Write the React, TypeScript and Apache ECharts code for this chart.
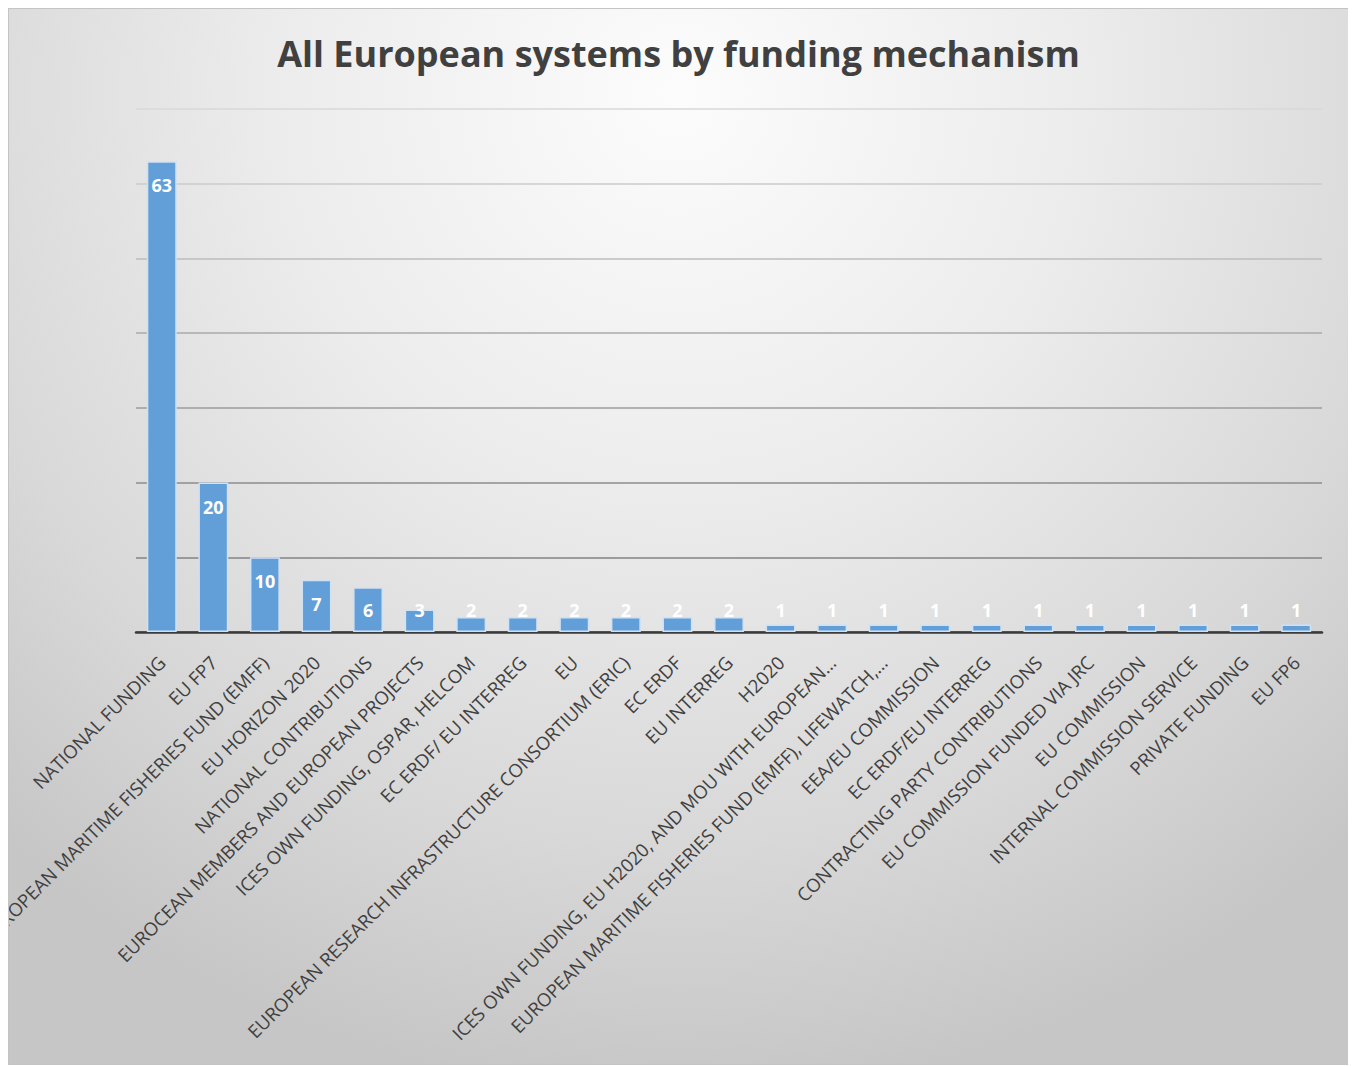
import React, { useEffect, useRef } from "react";
import * as echarts from "echarts";

const categories: string[] = [
  "NATIONAL FUNDING",
  "EU FP7",
  "EUROPEAN MARITIME FISHERIES FUND (EMFF)",
  "EU HORIZON 2020",
  "NATIONAL CONTRIBUTIONS",
  "EUROCEAN MEMBERS AND EUROPEAN PROJECTS",
  "ICES OWN FUNDING, OSPAR, HELCOM",
  "EC ERDF/ EU INTERREG",
  "EU",
  "EUROPEAN RESEARCH INFRASTRUCTURE CONSORTIUM (ERIC)",
  "EC ERDF",
  "EU INTERREG",
  "H2020",
  "ICES OWN FUNDING, EU H2020, AND MOU WITH EUROPEAN…",
  "EUROPEAN MARITIME FISHERIES FUND (EMFF), LIFEWATCH,…",
  "EEA/EU COMMISSION",
  "EC ERDF/EU INTERREG",
  "CONTRACTING PARTY CONTRIBUTIONS",
  "EU COMMISSION FUNDED VIA JRC",
  "EU COMMISSION",
  "INTERNAL COMMISSION SERVICE",
  "PRIVATE FUNDING",
  "EU FP6",
];

const systemCounts: number[] = [63, 20, 10, 7, 6, 3, 2, 2, 2, 2, 2, 2, 1, 1, 1, 1, 1, 1, 1, 1, 1, 1, 1];

const yMin = 0;
const yMax = 70;
const yInterval = 10;

const gridLineColors: string[] = [
  "#7a7a7a",
  "#838383",
  "#8d8d8d",
  "#9c9c9c",
  "#aaaaaa",
  "#bcbcbc",
  "#cbcbcb",
  "#d9d9d9",
];

export default function App() {
  const ref = useRef<HTMLDivElement>(null);

  useEffect(() => {
    if (!ref.current) return;
    const chart = echarts.init(ref.current, undefined, { renderer: "svg" });
    chart.setOption({
      animation: false,
      title: {
        text: "All European systems by funding mechanism",
        left: "center",
        top: 21,
        textStyle: {
          fontFamily: "Open Sans",
          fontWeight: "bold",
          fontSize: 36,
          color: "#404040",
        },
      },
      grid: {
        left: 127,
        right: 26,
        top: 100,
        bottom: 432,
        containLabel: false,
        outerBoundsMode: "none",
      },
      xAxis: {
        type: "category",
        data: categories,
        axisLine: { show: true, lineStyle: { color: "#3a3a3a", width: 2.5 } },
        axisTick: { show: false },
        axisLabel: {
          interval: 0,
          rotate: 45,
          margin: 27,
          fontFamily: "Open Sans",
          fontSize: 18.5,
          color: "#404040",
        },
      },
      yAxis: {
        type: "value",
        min: yMin,
        max: yMax,
        interval: yInterval,
        axisLine: { show: false },
        axisTick: { show: false },
        axisLabel: { show: false },
        splitLine: {
          show: true,
          lineStyle: { color: gridLineColors, width: 1.5 },
        },
      },
      series: [
        {
          type: "bar",
          data: systemCounts,
          barWidth: "58%",
          itemStyle: {
            color: "#629fd8",
            borderColor: "#cfe1f3",
            borderWidth: 1.5,
          },
          label: {
            show: true,
            position: "insideTop",
            color: "#ffffff",
            fontFamily: "Open Sans",
            fontWeight: "bold",
            fontSize: 18,
          },
          labelLayout: (params: any) => {
            const r = params.rect;
            const cy = Math.min(r.y + 24, r.y + r.height - 22);
            return {
              x: r.x + r.width / 2,
              y: cy,
              align: "center",
              verticalAlign: "middle",
            };
          },
        },
      ],
    });
    return () => chart.dispose();
  }, []);

  return (
    <div
      ref={ref}
      style={{
        width: 1341,
        height: 1057,
        boxSizing: "border-box",
        border: "1px solid #c4c4c4",
        background:
          "radial-gradient(ellipse 75% 95% at 50% 8%, #fcfcfc 0%, #ececec 40%, #d8d8d8 75%, #c6c6c6 100%)",
      }}
    />
  );
}
